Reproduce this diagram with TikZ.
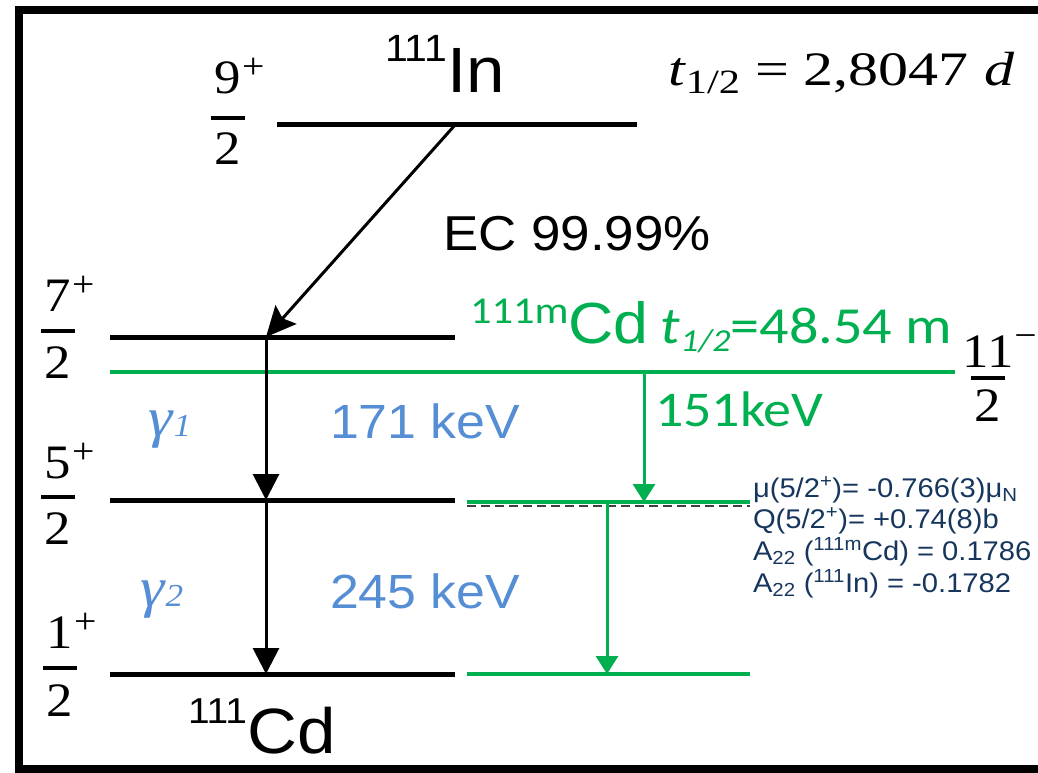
\documentclass[tikz,border=0pt]{standalone}
\usepackage{fontspec}
\setmainfont{Liberation Sans}[FakeStretch=1.08]
\newfontfamily\serifm{Liberation Serif}[FakeStretch=1.1]
\newfontfamily\serifw{Liberation Serif}[FakeStretch=1.25]
\newfontfamily\carl{Carlito}[FakeStretch=1.12]
\usetikzlibrary{arrows.meta}
\definecolor{grn}{RGB}{0,176,80}
\definecolor{lblue}{RGB}{85,142,213}
\definecolor{navy}{RGB}{22,54,93}
\newcommand{\myfs}[1]{\fontsize{#1}{#1}\selectfont}
\tikzset{
  level/.style={line width=5pt},
  glevel/.style={draw=grn, line width=3.5pt},
  arr/.style={line width=3pt, -{Triangle[width=26pt,length=26pt]}},
  ecarr/.style={line width=3pt, -{Stealth[width=28pt,length=30pt,inset=5pt]}},
  garr/.style={draw=grn, line width=3pt, -{Triangle[width=22pt,length=18pt]}, color=grn},
  lbl/.style={inner sep=0pt, outer sep=0pt, anchor=base west},
  cl/.style={inner sep=0pt, outer sep=0pt, anchor=base},
  frbar/.style={line width=3.5pt},
  info/.style={lbl, text=navy, font=\myfs{27}},
}
\newcommand{\frc}[7]{%
  \node[cl, font=\serifm\myfs{48}] (#1n) at (#2,#3) {#6};
  \node[lbl, font=\serifm\myfs{36}] (#1s) at ([xshift=1pt,yshift=15pt]#1n.base east) {#7};
  \coordinate (#1a) at (#2-17,#4);
  \coordinate (#1b) at (#2+17,#4);
  \draw[frbar] (#1a) -- (#1b);
  \node[cl, font=\serifm\myfs{48}] (#1d) at (#2,#5) {2};
}
\begin{document}
\begin{tikzpicture}[x=1pt,y=-1pt]
\useasboundingbox (0,0) rectangle (1038,773);
% frame
\coordinate (fr1) at (1040,10);
\coordinate (fr2) at (19,10);
\coordinate (fr3) at (19,769);
\coordinate (fr4) at (1040,769);
\draw[line width=8pt, miter limit=10] (fr1) -- (fr2) -- (fr3) -- (fr4);

% In level
\coordinate (inL) at (277,125);
\coordinate (inR) at (637,125);
\coordinate (inEC) at (455,125);
\draw[level] (inL) -- (inR);
\frc{f9}{228}{94}{118}{164}{9}{+}
\node[lbl] (inlab) at (385,93) {{\myfs{38}\raisebox{31pt}{111}}{\myfs{64}In}};
\node[lbl, font=\serifw\myfs{48}] (thalf) at (668,86) {\textit{t}{\myfs{34}\raisebox{-8pt}{1/2}} = 2,8047 \textit{d}};

% 7/2 level
\coordinate (l7L) at (110,337);
\coordinate (l7R) at (455,337);
\coordinate (l7A) at (266,337);
\draw[level] (l7L) -- (l7R);
\frc{f7}{58}{311}{331}{378}{7}{+}
\draw[ecarr] (inEC) -- (l7A);
\node[lbl, font=\myfs{49}] (ec) at (443,250) {EC 99.99\%};

% isomer green level
\coordinate (gL) at (110,372);
\coordinate (gR) at (955,372);
\coordinate (gA) at (644,372);
\draw[glevel] (gL) -- (gR);
\node[lbl, text=grn] (cdm) at (470,343) {{\carl\myfs{38}\raisebox{20pt}{111m}}{\myfs{58}Cd}\hspace{12pt}{\carl\myfs{52}\textit{t}{\myfs{32}\raisebox{-8pt}{\textit{1/2}}}=48.54 m}};
\frc{f11}{988}{367}{378}{421}{11}{\raisebox{5pt}{\textminus}}

% 5/2 level
\coordinate (l5L) at (110,500);
\coordinate (l5R) at (455,500);
\coordinate (l5A) at (266,500);
\draw[level] (l5L) -- (l5R);
\frc{f5}{58}{478}{497}{544}{5}{+}
\coordinate (g5L) at (467,502);
\coordinate (g5R) at (750,502);
\coordinate (g5A) at (644,502);
\coordinate (g5B) at (607,503);
\coordinate (d5L) at (467,506);
\coordinate (d5R) at (750,506);
\draw[line width=2pt, draw=black!75, dash pattern=on 9pt off 5pt] (d5L) -- (d5R);
\draw[glevel] (g5L) -- (g5R);

% 1/2 level
\coordinate (l1L) at (110,674);
\coordinate (l1R) at (455,674);
\coordinate (l1A) at (266,674);
\draw[level] (l1L) -- (l1R);
\frc{f1}{60}{648}{668}{716}{1}{+}
\coordinate (g1L) at (467,674);
\coordinate (g1R) at (750,674);
\coordinate (g1A) at (607,674);
\draw[glevel] (g1L) -- (g1R);
\node[lbl] (cdlab) at (188,753) {{\myfs{36}\raisebox{30pt}{111}}{\myfs{64}Cd}};

% gamma transitions
\draw[arr] (l7A) -- (l5A);
\draw[arr] (l5A) -- (l1A);
\draw[garr] (gA) -- (g5A);
\draw[garr] (g5B) -- (g1A);

\node[lbl, text=lblue, font=\serifm\myfs{56}] (g1) at (148,436) {\textit{γ}{\myfs{32}\textit{1}}};
\node[lbl, text=lblue, font=\serifm\myfs{56}] (g2) at (140,606) {\textit{γ}{\myfs{32}\textit{2}}};
\node[lbl, text=lblue, font=\myfs{48}] (e171) at (330,438) {171 keV};
\node[lbl, text=lblue, font=\myfs{48}] (e245) at (330,608) {245 keV};
\node[lbl, text=grn, font=\carl\myfs{50}] (e151) at (655,426) {151keV};

% info
\node[info] (i1) at (753,497) {μ(5/2\textsuperscript{+})= -0.766(3)μ\textsubscript{N}};
\node[info] (i2) at (753,528) {Q(5/2\textsuperscript{+})= +0.74(8)b};
\node[info] (i3) at (753,560) {A\textsubscript{22} (\textsuperscript{111m}Cd) = 0.1786};
\node[info] (i4) at (753,592) {A\textsubscript{22} (\textsuperscript{111}In) = -0.1782};
\end{tikzpicture}
\end{document}
